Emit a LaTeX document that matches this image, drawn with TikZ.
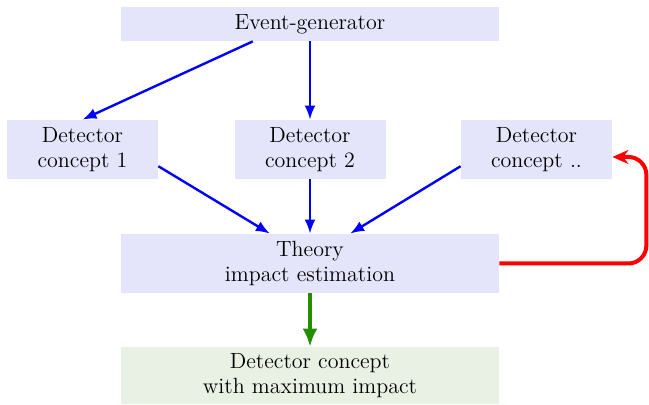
\documentclass[tikz,border=0pt]{standalone}
\usepackage{fontspec}
\usetikzlibrary{arrows.meta,calc}
\definecolor{boxblue}{RGB}{228,228,250}
\definecolor{boxgreen}{RGB}{232,241,228}
\definecolor{arrgreen}{RGB}{34,142,0}
\begin{document}
\begin{tikzpicture}[x=0.5pt,y=-0.5pt,
  box/.style={fill=boxblue, inner sep=0pt, align=center, font=\fontsize{11}{12.5}\selectfont},
  wide/.style={box, minimum width=189pt},
  det/.style={box, minimum width=75.5pt, minimum height=29.5pt},
  blar/.style={draw=blue, line width=1.2pt, -{Latex[length=7pt,width=5.5pt]}},
  rdar/.style={draw=red, line width=2pt, rounded corners=9pt, -{Stealth[length=8pt,width=7pt]}},
  grar/.style={draw=arrgreen, line width=2pt, -{Latex[length=9pt,width=7.5pt]}}]
\useasboundingbox (0,0) rectangle (649,405);
\node[wide, minimum height=17pt] (ev) at (310,24) {Event-generator};
\node[det] (d1) at (82.5,149.5) {Detector\\concept 1};
\node[det] (d2) at (310,149.5) {Detector\\concept 2};
\node[det] (d3) at (536.5,149.5) {Detector\\concept ..};
\node[wide, minimum height=29.5pt] (th) at (310,263.5) {Theory\\impact estimation};
\node[wide, minimum height=28.5pt, fill=boxgreen] (fin) at (310,375.5) {Detector concept\\with maximum impact};
\draw[blar] ($(ev.south west)!0.349!(ev.south east)$) -- (d1.north);
\draw[blar] (ev.south) -- (d2.north);
\draw[blar] ($(d1.east)!0.56!(d1.south east)$) -- ($(th.north west)!0.394!(th.north east)$);
\draw[blar] (d2.south) -- (th.north);
\draw[blar] ($(d3.west)!0.56!(d3.south west)$) -- ($(th.north west)!0.606!(th.north east)$);
\coordinate (r1) at ($(d3.east)!0.25!(d3.south east)$);
\draw[rdar] (th.east) -- ++(147,0) |- (r1);
\draw[grar] (th.south) -- (fin.north);
\end{tikzpicture}
\end{document}
